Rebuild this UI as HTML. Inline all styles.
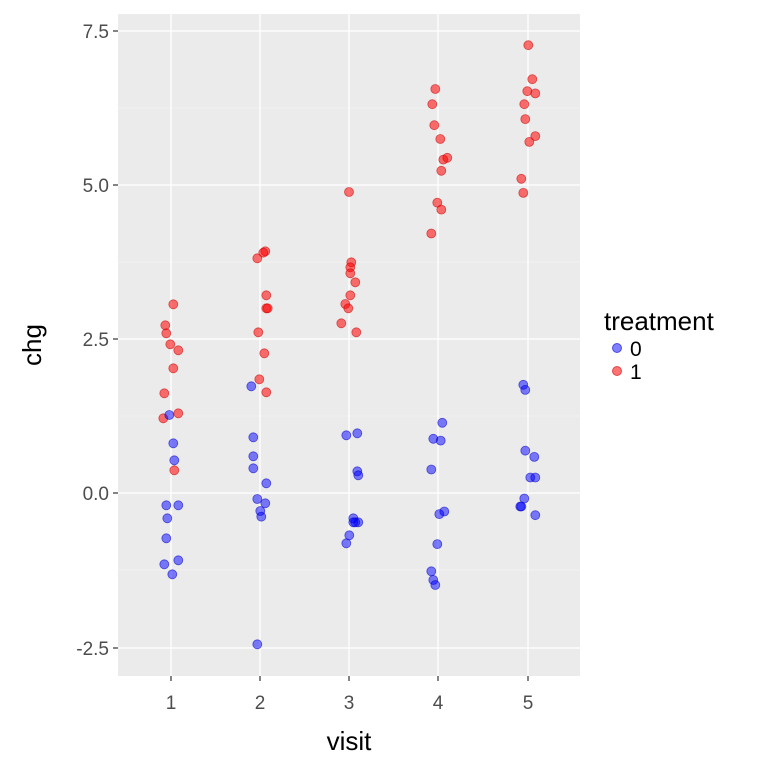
<!DOCTYPE html>
<html><head><style>body{margin:0;background:#fff}</style></head><body>
<svg width="762" height="765" xmlns="http://www.w3.org/2000/svg" font-family="Liberation Sans, sans-serif">
<rect x="118" y="14" width="462" height="662" fill="#ebebeb"/>
<g stroke="#f5f5f5" stroke-width="0.8">
<line x1="118" x2="580" y1="108" y2="108"/><line x1="118" x2="580" y1="262" y2="262"/><line x1="118" x2="580" y1="416" y2="416"/><line x1="118" x2="580" y1="570" y2="570"/>
</g>
<g stroke="#fff" stroke-width="1.3">
<line x1="118" x2="580" y1="31" y2="31"/><line x1="118" x2="580" y1="185" y2="185"/><line x1="118" x2="580" y1="339" y2="339"/><line x1="118" x2="580" y1="493" y2="493"/><line x1="118" x2="580" y1="648" y2="648"/>
<line y1="14" y2="676" x1="171" x2="171"/><line y1="14" y2="676" x1="260" x2="260"/><line y1="14" y2="676" x1="349" x2="349"/><line y1="14" y2="676" x1="438" x2="438"/><line y1="14" y2="676" x1="528" x2="528"/>
</g>
<g fill="rgba(255,0,0,0.55)" stroke="rgba(200,0,0,0.6)" stroke-width="0.8">
<circle cx="173.3" cy="304.3" r="4.5"/><circle cx="165.3" cy="325.3" r="4.5"/><circle cx="166.3" cy="333.3" r="4.5"/><circle cx="170.3" cy="344.3" r="4.5"/><circle cx="178.3" cy="350.3" r="4.5"/><circle cx="173.3" cy="368.3" r="4.5"/><circle cx="164.3" cy="393.3" r="4.5"/><circle cx="178.3" cy="413.3" r="4.5"/><circle cx="163.3" cy="418.3" r="4.5"/><circle cx="174.3" cy="470.3" r="4.5"/>
<circle cx="265.3" cy="251.3" r="4.5"/><circle cx="263.3" cy="252.7" r="4.5"/><circle cx="257.3" cy="258.3" r="4.5"/><circle cx="266.3" cy="295.3" r="4.5"/><circle cx="266.3" cy="308.3" r="4.5"/><circle cx="267.7" cy="308.3" r="4.5"/><circle cx="258.3" cy="332.3" r="4.5"/><circle cx="264.3" cy="353.3" r="4.5"/><circle cx="259.3" cy="379.3" r="4.5"/><circle cx="266.3" cy="392.3" r="4.5"/>
<circle cx="349" cy="192" r="4.5"/><circle cx="351.3" cy="262.3" r="4.5"/><circle cx="350.3" cy="267.3" r="4.5"/><circle cx="350.3" cy="273.3" r="4.5"/><circle cx="355.3" cy="282.3" r="4.5"/><circle cx="350.3" cy="295.3" r="4.5"/><circle cx="345.3" cy="304" r="4.5"/><circle cx="348.3" cy="308.3" r="4.5"/><circle cx="341.3" cy="323.3" r="4.5"/><circle cx="356.3" cy="332.3" r="4.5"/>
<circle cx="435.3" cy="89" r="4.5"/><circle cx="432.3" cy="104.2" r="4.5"/><circle cx="434.3" cy="125.2" r="4.5"/><circle cx="440.3" cy="139" r="4.5"/><circle cx="443.3" cy="159.6" r="4.5"/><circle cx="447.3" cy="157.8" r="4.5"/><circle cx="441.3" cy="170.8" r="4.5"/><circle cx="437.3" cy="202.7" r="4.5"/><circle cx="441.3" cy="209.6" r="4.5"/><circle cx="431.3" cy="233.5" r="4.5"/>
<circle cx="528.3" cy="45.2" r="4.5"/><circle cx="532.3" cy="79.2" r="4.5"/><circle cx="527.3" cy="91.2" r="4.5"/><circle cx="535.3" cy="93.4" r="4.5"/><circle cx="524.3" cy="104.2" r="4.5"/><circle cx="525.3" cy="119.1" r="4.5"/><circle cx="535.3" cy="136.1" r="4.5"/><circle cx="529.3" cy="141.9" r="4.5"/><circle cx="521.3" cy="178.8" r="4.5"/><circle cx="523.3" cy="192.9" r="4.5"/>
</g>
<g fill="rgba(0,0,255,0.5)" stroke="rgba(0,0,200,0.6)" stroke-width="0.8">
<circle cx="169.3" cy="415" r="4.5"/><circle cx="173.3" cy="443.3" r="4.5"/><circle cx="174.3" cy="460.3" r="4.5"/><circle cx="166.3" cy="505.3" r="4.5"/><circle cx="178.3" cy="505.3" r="4.5"/><circle cx="167.3" cy="518.3" r="4.5"/><circle cx="166.3" cy="538.3" r="4.5"/><circle cx="164.3" cy="564.3" r="4.5"/><circle cx="178.3" cy="560.3" r="4.5"/><circle cx="172.3" cy="574.3" r="4.5"/>
<circle cx="251.3" cy="386.3" r="4.5"/><circle cx="253.3" cy="437.3" r="4.5"/><circle cx="253.3" cy="456.3" r="4.5"/><circle cx="253.3" cy="468.3" r="4.5"/><circle cx="266.3" cy="483.3" r="4.5"/><circle cx="257.3" cy="499" r="4.5"/><circle cx="265.3" cy="503.3" r="4.5"/><circle cx="260.3" cy="511" r="4.5"/><circle cx="261.3" cy="516.7" r="4.5"/><circle cx="257.3" cy="644.3" r="4.5"/>
<circle cx="346.3" cy="435.3" r="4.5"/><circle cx="357.3" cy="433.3" r="4.5"/><circle cx="357.3" cy="471.3" r="4.5"/><circle cx="358.3" cy="475.3" r="4.5"/><circle cx="353.3" cy="518.3" r="4.5"/><circle cx="355.3" cy="522.3" r="4.5"/><circle cx="358.3" cy="522.3" r="4.5"/><circle cx="353.3" cy="522.3" r="4.5"/><circle cx="349.3" cy="535.3" r="4.5"/><circle cx="346.3" cy="543.3" r="4.5"/>
<circle cx="442.3" cy="422.8" r="4.5"/><circle cx="433.3" cy="438.8" r="4.5"/><circle cx="440.7" cy="440.6" r="4.5"/><circle cx="431.3" cy="469.5" r="4.5"/><circle cx="444.3" cy="511.5" r="4.5"/><circle cx="439.3" cy="514.1" r="4.5"/><circle cx="437.3" cy="544.1" r="4.5"/><circle cx="431.3" cy="571.3" r="4.5"/><circle cx="433.3" cy="580" r="4.5"/><circle cx="435.3" cy="585" r="4.5"/>
<circle cx="523.3" cy="384.8" r="4.5"/><circle cx="525.3" cy="389.9" r="4.5"/><circle cx="525.3" cy="450.7" r="4.5"/><circle cx="534.3" cy="456.9" r="4.5"/><circle cx="530.3" cy="477.5" r="4.5"/><circle cx="535.3" cy="477.5" r="4.5"/><circle cx="524.3" cy="498.5" r="4.5"/><circle cx="520.3" cy="506.5" r="4.5"/><circle cx="521.3" cy="506.5" r="4.5"/><circle cx="535.3" cy="515.2" r="4.5"/>
</g>
<g stroke="#333" stroke-width="1.2">
<line x1="113" x2="118" y1="31" y2="31"/><line x1="113" x2="118" y1="185" y2="185"/><line x1="113" x2="118" y1="339" y2="339"/><line x1="113" x2="118" y1="493" y2="493"/><line x1="113" x2="118" y1="648" y2="648"/>
<line y1="676" y2="681" x1="171" x2="171"/><line y1="676" y2="681" x1="260" x2="260"/><line y1="676" y2="681" x1="349" x2="349"/><line y1="676" y2="681" x1="438" x2="438"/><line y1="676" y2="681" x1="528" x2="528"/>
</g>
<g fill="#4d4d4d" font-size="19" text-anchor="end">
<text x="109" y="38">7.5</text><text x="109" y="192">5.0</text><text x="109" y="346">2.5</text><text x="109" y="500">0.0</text><text x="109" y="655">-2.5</text>
</g>
<g fill="#4d4d4d" font-size="19" text-anchor="middle">
<text x="171" y="709">1</text><text x="260" y="709">2</text><text x="349" y="709">3</text><text x="438" y="709">4</text><text x="528" y="709">5</text>
</g>
<text x="349" y="750" font-size="26" text-anchor="middle">visit</text>
<text transform="translate(41,345) rotate(-90)" font-size="26" text-anchor="middle">chg</text>
<text x="604" y="330" font-size="26">treatment</text>
<circle cx="617" cy="348" r="4.5" fill="rgba(0,0,255,0.5)" stroke="rgba(0,0,200,0.6)"/>
<circle cx="617" cy="371" r="4.5" fill="rgba(255,0,0,0.55)" stroke="rgba(200,0,0,0.6)"/>
<text x="630" y="356" font-size="21">0</text>
<text x="630" y="379" font-size="21">1</text>
</svg>
</body></html>
